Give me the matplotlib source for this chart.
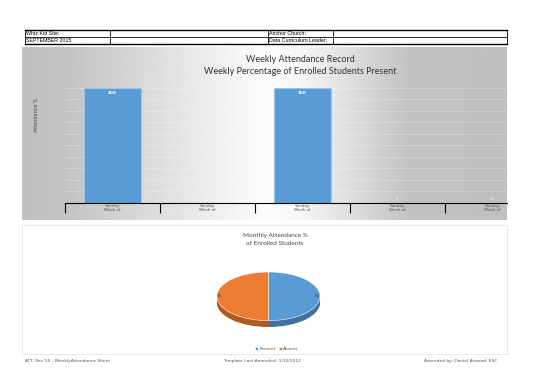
import numpy as np
import matplotlib.pyplot as plt
from matplotlib.patches import Rectangle

# data
weeks = ["Sunday\nWeek of"] * 5
attendance = [100, 0, 100, 0, 0]
pie_labels = ["Present", "Absent"]
pie_values = [50, 50]
header_rows = [["Whiz Kid Site:", "", "Anchor Church:", ""],
               ["SEPTEMBER 2015", "", "Data Curriculum Leader:", ""]]
footer = ["ATT- Rev'15 - WeeklyAttendance Sheet",
          "Template Last Amended: 1/30/2012",
          "Amended by: Daniel Atwood, ESC"]

BLUE = "#5B9BD5"
ORANGE = "#ED7D31"
W, H = 550, 388


def fx(x):
    return x / W


def fy(y):
    return 1 - y / H


def box(x0, y0, x1, y1):
    return [fx(x0), fy(y1), fx(x1) - fx(x0), fy(y0) - fy(y1)]


fig = plt.figure(figsize=(5.5, 3.88), dpi=100)
fig.patch.set_facecolor("white")

# header table
col_x = [25, 110, 268, 333, 507]
row_y = [30, 37, 44]
for y in row_y:
    fig.add_artist(plt.Line2D([fx(25), fx(507)], [fy(y), fy(y)], color="black",
                              lw=1.0 if y != 37 else 0.6, transform=fig.transFigure))
for x in col_x:
    fig.add_artist(plt.Line2D([fx(x), fx(x)], [fy(30), fy(44)], color="black",
                              lw=0.6, transform=fig.transFigure))
for r, row in enumerate(header_rows):
    for c, txt in enumerate(row):
        fig.text(fx(col_x[c] + 1), fy((row_y[r] + row_y[r + 1]) / 2), txt,
                 fontsize=3.8, family="Liberation Sans", va="center", ha="left")

# bar panel background gradient
bg = fig.add_axes(box(22, 47, 507, 220))
xs = np.linspace(0, 1, 400)
shade = np.interp(xs, [0, 0.1, 0.5, 0.57, 0.8, 1], [0.75, 0.77, 0.99, 0.97, 0.76, 0.75])
bg.imshow(np.tile(shade, (10, 1)), cmap="gray", vmin=0, vmax=1, aspect="auto",
          extent=[0, 1, 0, 1])
bg.set_axis_off()

fig.text(fx(300), fy(60), "Weekly Attendance Record", fontsize=6.5, family="Lato",
         ha="center", va="center", color="#333333")
fig.text(fx(300), fy(71), "Weekly Percentage of Enrolled Students Present", fontsize=6.5,
         family="Lato", ha="center", va="center", color="#333333")
fig.text(fx(37), fy(115), "Attendance %", fontsize=3.5, rotation=90, ha="center",
         va="center", color="#444444")

ax = fig.add_axes(box(65, 85, 507, 203))
ax.patch.set_alpha(0)
pos = np.arange(len(weeks))
bars = ax.bar(pos, attendance, width=0.6, color=BLUE, edgecolor="#9DC3E6", lw=0.8)
for p, v in zip(pos, attendance):
    if v > 0:
        ax.text(p, v - 3, str(v), color="white", fontsize=3, ha="center", va="top",
                fontweight="bold")
    else:
        ax.text(p, v + 2, str(v), color="white", fontsize=3, ha="center", va="bottom",
                clip_on=False)
ax.set_yticks(np.arange(0, 101, 10))
ax.yaxis.grid(True, color="white", lw=0.5, alpha=0.3)
ax.set_axisbelow(True)
ax.tick_params(axis="y", length=0, labelleft=False)
ax.set_xticks(np.arange(-0.5, 4.0, 1.0))
ax.set_xticklabels([])
ax.set_xticks(pos, minor=True)
ax.set_xticklabels(weeks, minor=True, fontsize=3, color="#555555", linespacing=0.9)
ax.tick_params(axis="x", which="major", length=7, width=0.8, direction="out")
ax.tick_params(axis="x", which="minor", length=0, pad=1)
ax.set_xlim(-0.5, -0.5 + 442 / 95)
ax.set_ylim(0, 102.6)
for s in ["top", "right", "left"]:
    ax.spines[s].set_visible(False)
ax.spines["bottom"].set_linewidth(0.8)

# pie panel
fig.add_artist(Rectangle((fx(22), fy(354)), fx(507) - fx(22), fy(225) - fy(354),
                         transform=fig.transFigure, fill=False, ec="#e6e6e6", lw=0.6))
fig.text(fx(275), fy(235.5), "Monthly Attendance %", fontsize=4.6, ha="center",
         va="center", color="#444444", family="Lato")
fig.text(fx(275), fy(243.5), "of Enrolled Students", fontsize=4.6, ha="center",
         va="center", color="#444444", family="Lato")

pax = fig.add_axes(box(217, 272, 320, 327))
dark = ["#41719C", "#AE5A21"]
# 3d side: stack shifted copies
depth = 0.26
for d in np.linspace(depth, 0.01, 12):
    pax.pie(pie_values, colors=dark, startangle=90, counterclock=False,
            center=(0, -d), radius=1)
wedges, texts = pax.pie(pie_values, colors=[BLUE, ORANGE], startangle=90,
                        counterclock=False, radius=1, labels=[str(v) for v in pie_values],
                        labeldistance=0.9,
                        wedgeprops=dict(edgecolor="white", lw=0.4),
                        textprops=dict(fontsize=3, color="#404040"))
pax.set_aspect("auto")
pax.set_xlim(-1.0, 1.0)
pax.set_ylim(-1.0 - depth, 1.0)

fig.legend(wedges, pie_labels, loc="center", bbox_to_anchor=(fx(277), fy(349)), ncol=2,
           fontsize=3.2, frameon=False, handlelength=0.6, handleheight=0.6,
           columnspacing=0.8, handletextpad=0.3, labelcolor="#555555")

# footer
fig.text(fx(25), fy(361), footer[0], fontsize=3.2, color="#555555", va="center")
fig.text(fx(262), fy(361), footer[1], fontsize=3.2, color="#555555", va="center",
         ha="center")
fig.text(fx(497), fy(361), footer[2], fontsize=3.2, color="#555555", va="center",
         ha="right")

fig.savefig("out.png", dpi=100)
